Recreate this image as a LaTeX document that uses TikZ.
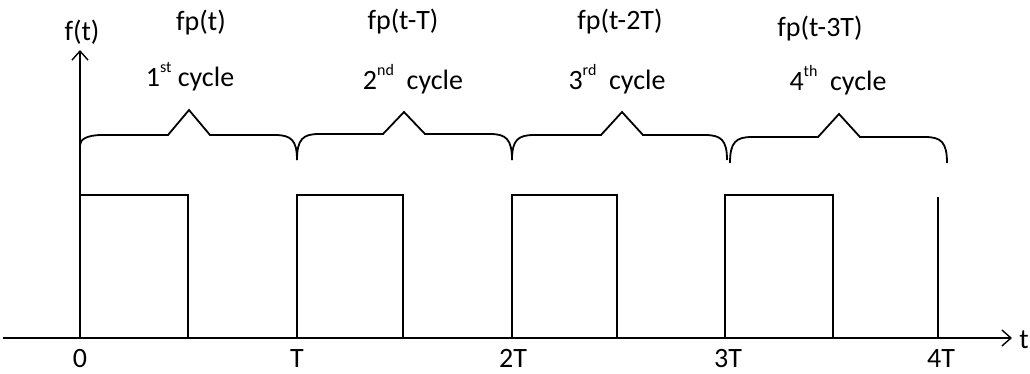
\documentclass[tikz,border=0pt]{standalone}
\usepackage{fontspec}
\setmainfont{Carlito}
\usetikzlibrary{arrows.meta}
\newcommand\sups[1]{\raisebox{0.5em}{\fontsize{16}{16}\selectfont #1}}
\newcommand\cyclebrace[7]{%
  \draw[bracepath] (#1,#2) .. controls (#1,{#6+5}) and ({#1+6},#6) .. ({#1+22},#6)
    -- ({#5-21},#6) -- (#5,#7) -- ({#5+21},#6) -- ({#3-22},#6)
    .. controls ({#3-6},#6) and (#3,{#6+5}) .. (#3,#4);}
\begin{document}
\begin{tikzpicture}[x=1pt,y=-1pt,
  lbl/.style={anchor=base,inner sep=0pt,font=\fontsize{28}{34}\selectfont},
  axisline/.style={line width=1.6pt,-{Straight Barb[length=9pt,width=16pt,line width=1.4pt]}},
  pulse/.style={line width=1.2pt},
  bracepath/.style={line width=1.8pt,line join=miter}]
\useasboundingbox (0,0) rectangle (1030,373);
\fill[white] (0,0) rectangle (1030,373);
% axes
\coordinate (xl) at (3,338);
\coordinate (xr) at (1012,338);
\coordinate (O) at (80,338);
\coordinate (ytop) at (80,50);
\draw[axisline] (xl) -- (xr);
\draw[axisline] (O) -- (ytop);
% pulses
\foreach \a/\b/\n in {80/188/1,297/403/2,512/617/3,725/833/4}{
  \draw[pulse] (\a,338) -- (\a,195) -- (\b,195) -- (\b,338);
}
\draw[pulse] (938,338) -- (938,197);
% braces
\cyclebrace{80}{145}{297}{160}{189}{135}{110}
\cyclebrace{297}{160}{512}{160}{404}{134}{112}
\cyclebrace{512}{160}{727}{160}{622}{135}{112}
\cyclebrace{730}{163}{947}{163}{839}{137}{114}
% labels
\node[lbl] (ft) at (82,40) {f(t)};
\node[lbl] (tl) at (1024,348) {t};
\node[lbl] (l0) at (80,367) {0};
\node[lbl] (l1) at (297,367) {T};
\node[lbl] (l2) at (513,367) {2T};
\node[lbl] (l3) at (728,367) {3T};
\node[lbl] (l4) at (941,367) {4T};
\node[lbl] (f1) at (201,30) {fp(t)};
\node[lbl] (f2) at (403,29) {fp(t-T)};
\node[lbl] (f3) at (620,29) {fp(t-2T)};
\node[lbl] (f4) at (820,36) {fp(t-3T)};
\node[lbl] (c1) at (190,86) {1\sups{st} cycle};
\node[lbl] (c2) at (413,89) {2\sups{nd}\ \ cycle};
\node[lbl] (c3) at (617,89) {3\sups{rd}\ \ cycle};
\node[lbl] (c4) at (838,90) {4\sups{th}\ \ cycle};
\end{tikzpicture}
\end{document}
